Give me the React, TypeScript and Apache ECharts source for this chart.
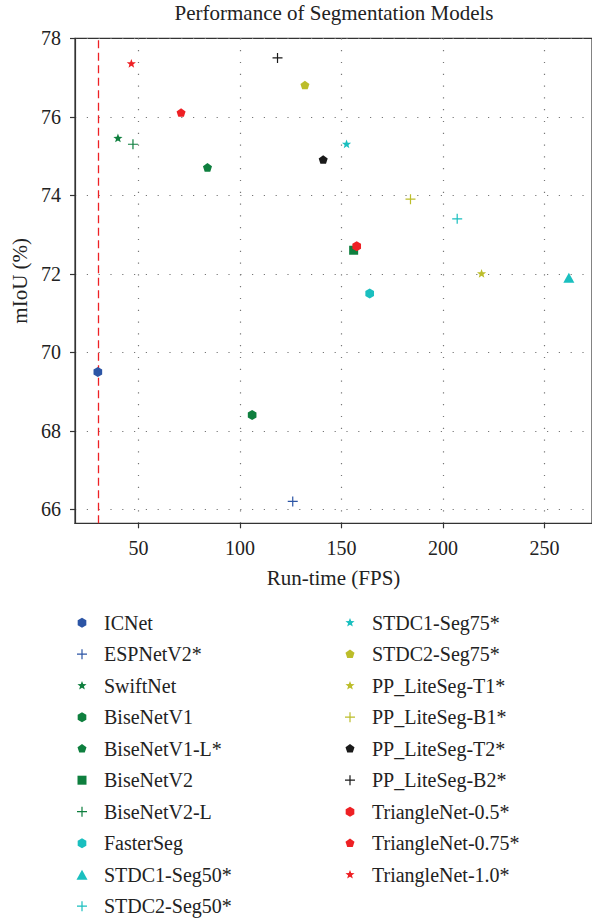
import React, { useEffect, useRef } from 'react';
import * as echarts from 'echarts';

const modelNames = [
  'ICNet', 'ESPNetV2*', 'SwiftNet', 'BiseNetV1', 'BiseNetV1-L*', 'BiseNetV2', 'BiseNetV2-L',
  'FasterSeg', 'STDC1-Seg50*', 'STDC2-Seg50*', 'STDC1-Seg75*', 'STDC2-Seg75*',
  'PP_LiteSeg-T1*', 'PP_LiteSeg-B1*', 'PP_LiteSeg-T2*', 'PP_LiteSeg-B2*',
  'TriangleNet-0.5*', 'TriangleNet-0.75*', 'TriangleNet-1.0*',
];
const fpsValues = [30, 126, 39.9, 106, 84, 156, 47.3, 163.9, 262, 207, 152.5, 132, 219, 184, 141, 118.5, 157.5, 71, 46.5];
const miouValues = [69.5, 66.2, 75.45, 68.4, 74.7, 72.6, 75.3, 71.5, 71.9, 73.4, 75.3, 76.8, 72.0, 73.9, 74.9, 77.5, 72.7, 76.1, 77.35];
const markerKinds = [
  'hexagon', 'plus', 'star', 'hexagon', 'pentagon', 'square', 'plus',
  'hexagon', 'triangle', 'plus', 'star', 'pentagon',
  'star', 'plus', 'pentagon', 'plus',
  'hexagon', 'pentagon', 'star',
];
const markerColors = [
  '#2c55a5', '#2c55a5', '#0e7f3e', '#0e7f3e', '#0e7f3e', '#0e7f3e', '#0e7f3e',
  '#1abfbf', '#1abfbf', '#1abfbf', '#1abfbf', '#bcbd2a',
  '#bcbd2a', '#bcbd2a', '#1a1a1a', '#1a1a1a',
  '#ee2024', '#ee2024', '#ee2024',
];
const xTickValues = [50, 100, 150, 200, 250];
const yTickValues = [66, 68, 70, 72, 74, 76, 78];
const realTimeFps = 30;

const FRAME = 'M-10,-10 M10,10 ';
const symbolPaths: Record<string, string> = {
  hexagon: 'path://' + FRAME + 'M0,-8.33 L7.21,-4.17 L7.21,4.17 L0,8.33 L-7.21,4.17 L-7.21,-4.17 Z',
  pentagon: 'path://' + FRAME + 'M0,-7.9 L7.51,-2.44 L4.64,6.39 L-4.64,6.39 L-7.51,-2.44 Z',
  star: 'path://' + FRAME + 'M0,-8 L2.0,-2.72 L7.61,-2.47 L3.2,1.04 L4.7,6.47 L0,3.36 L-4.7,6.47 L-3.2,1.04 L-7.61,-2.47 L-2.0,-2.72 Z',
  square: 'path://' + FRAME + 'M-7.5,-7.5 L7.5,-7.5 L7.5,7.5 L-7.5,7.5 Z',
  triangle: 'path://' + FRAME + 'M0,-8.3 L9.2,8.3 L-9.2,8.3 Z',
  plus: 'path://' + FRAME + 'M-1,-8.33 L1,-8.33 L1,-1 L8.33,-1 L8.33,1 L1,1 L1,8.33 L-1,8.33 L-1,1 L-8.33,1 L-8.33,-1 L-1,-1 Z',
};

const FONT = 'Liberation Serif';
const TEXT_COLOR = '#222';
const AXIS_COLOR = '#333';

export default function App() {
  const ref = useRef<HTMLDivElement>(null);

  useEffect(() => {
    document.body.style.margin = '0';
    if (!ref.current) return;
    const chart = echarts.init(ref.current, null, { renderer: 'svg' });

    const series: any[] = modelNames.map((name, i) => {
      const s: any = {
        name,
        type: 'scatter',
        symbol: symbolPaths[markerKinds[i]],
        symbolSize: 12,
        itemStyle: { color: markerColors[i], opacity: 1 },
        data: [[fpsValues[i], miouValues[i]]],
        z: 3,
      };
      if (i === 0) {
        s.markLine = {
          silent: true,
          z: 1,
          symbol: ['none', 'none'],
          label: { show: false },
          lineStyle: { color: '#ee2024', type: [8, 4.5], width: 1.3 },
          data: [{ xAxis: realTimeFps }],
        };
      }
      return s;
    });

    const textBase = { fontFamily: FONT, fontSize: 20, color: TEXT_COLOR, lineHeight: 20 };
    const nameText = { ...textBase, fontSize: 21, lineHeight: 21 };

    const legendCommon = {
      orient: 'vertical',
      padding: 0,
      itemWidth: 34,
      itemHeight: 12,
      itemGap: 11.5,
      top: 612.7,
      height: 312,
      textStyle: { ...textBase },
    };

    chart.setOption({
      animation: false,
      textStyle: { fontFamily: FONT },
      title: {
        text: 'Performance of Segmentation Models',
        left: 334,
        top: 2,
        padding: 0,
        textAlign: 'center',
        textStyle: { ...nameText, fontWeight: 'normal' },
      },
      grid: {
        left: 75,
        top: 38.3,
        right: -2,
        bottom: 395.7,
        show: true,
        borderColor: AXIS_COLOR,
        borderWidth: 1.2,
        backgroundColor: 'transparent',
      },
      xAxis: {
        type: 'value',
        min: 18.75,
        max: 273.4,
        name: 'Run-time (FPS)',
        nameLocation: 'middle',
        nameGap: 44,
        nameTextStyle: { ...nameText },
        axisLine: { show: true, lineStyle: { color: AXIS_COLOR, width: 1.2 } },
        axisTick: { show: true, length: 5, customValues: xTickValues, lineStyle: { color: AXIS_COLOR, width: 1.2 } },
        axisLabel: { customValues: xTickValues, margin: 15, ...textBase },
        splitLine: { show: true, lineStyle: { color: '#777', width: 1.2, type: [1.2, 10.6] } },
      },
      yAxis: {
        type: 'value',
        min: 65.643,
        max: 78,
        name: 'mIoU (%)',
        nameLocation: 'middle',
        nameGap: 44,
        nameTextStyle: { ...nameText },
        axisLine: { show: true, lineStyle: { color: AXIS_COLOR, width: 1.2 } },
        axisTick: { show: true, length: 5, customValues: yTickValues, lineStyle: { color: AXIS_COLOR, width: 1.2 } },
        axisLabel: { customValues: yTickValues, margin: 14, ...textBase },
        splitLine: { show: true, lineStyle: { color: '#777', width: 1.2, type: [1.2, 10.6] } },
      },
      legend: [
        {
          ...legendCommon,
          left: 76,
          data: modelNames.slice(0, 10).map((n, i) => ({ name: n, icon: symbolPaths[markerKinds[i]] })),
        },
        {
          ...legendCommon,
          left: 344,
          data: modelNames.slice(10).map((n, i) => ({ name: n, icon: symbolPaths[markerKinds[i + 10]] })),
        },
      ],
      series,
    });

    return () => chart.dispose();
  }, []);

  return <div ref={ref} style={{ width: 592, height: 919 }} />;
}
